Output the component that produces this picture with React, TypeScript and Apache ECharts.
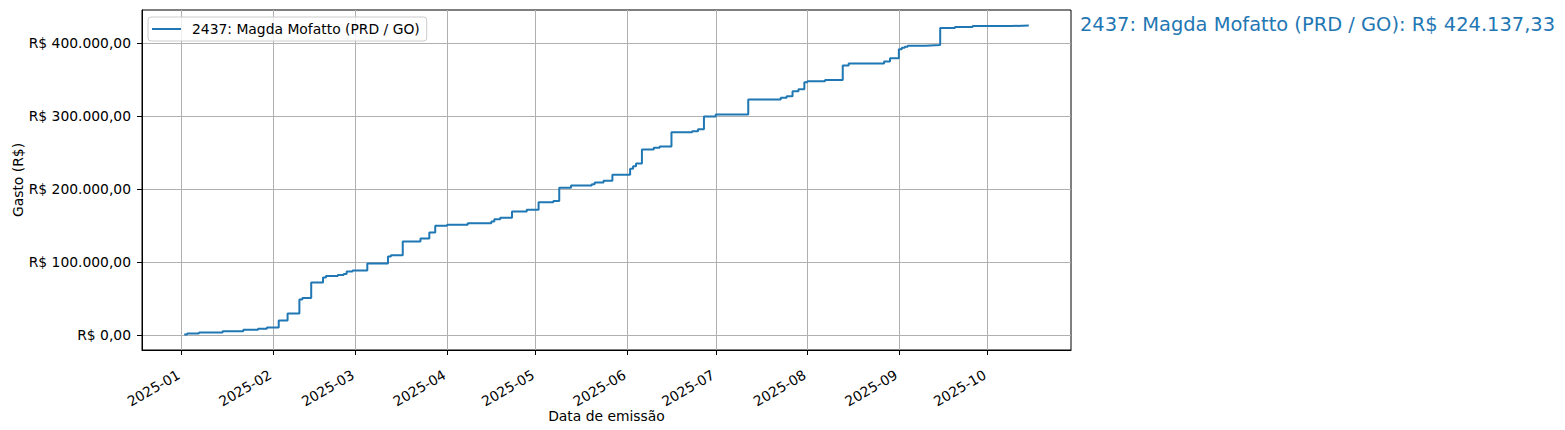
import React, { useEffect, useRef } from 'react';
import * as echarts from 'echarts';

const seriesName = '2437: Magda Mofatto (PRD / GO)';

const dates = [
  '2025-01-02', '2025-01-03', '2025-01-07', '2025-01-15', '2025-01-22', '2025-01-27', '2025-01-30',
  '2025-02-03', '2025-02-06', '2025-02-10', '2025-02-11', '2025-02-14', '2025-02-18', '2025-02-19',
  '2025-02-23', '2025-02-25', '2025-02-26', '2025-02-28',
  '2025-03-05', '2025-03-12', '2025-03-13', '2025-03-17', '2025-03-23', '2025-03-26', '2025-03-28',
  '2025-04-01', '2025-04-08', '2025-04-16', '2025-04-17', '2025-04-19', '2025-04-23', '2025-04-28',
  '2025-05-02', '2025-05-07', '2025-05-09', '2025-05-13', '2025-05-20', '2025-05-21', '2025-05-24', '2025-05-27',
  '2025-06-02', '2025-06-03', '2025-06-04', '2025-06-06', '2025-06-10', '2025-06-12', '2025-06-16',
  '2025-06-23', '2025-06-25', '2025-06-27',
  '2025-07-01', '2025-07-12', '2025-07-23', '2025-07-25', '2025-07-27', '2025-07-29', '2025-07-31',
  '2025-08-01', '2025-08-07', '2025-08-13', '2025-08-15', '2025-08-27', '2025-08-29',
  '2025-09-01', '2025-09-02', '2025-09-03', '2025-09-04', '2025-09-10', '2025-09-15', '2025-09-20', '2025-09-26',
  '2025-10-09', '2025-10-15',
];

const cumulative = [
  1000, 2300, 3700, 5600, 7400, 8800, 10600,
  20200, 29800, 49000, 50900, 72300, 79100, 81100,
  82400, 83800, 87400, 88700,
  98300, 107800, 109400, 128500, 132600, 140800, 150000,
  151400, 153200, 155900, 158700, 161000, 169600, 172000,
  182000, 183900, 202100, 204900, 206700, 209000, 211700, 219600,
  227800, 231300, 235000, 254200, 256600, 258400, 278000,
  279300, 282100, 299500,
  302200, 322800, 325100, 327300, 334200, 336900, 346500,
  347900, 349300, 369400, 372200, 374900, 379400,
  391400, 393700, 395100, 396500, 397300, 420600, 421900, 423300,
  424100, 424137.33,
];

const yTickValues = [0, 100000, 200000, 300000, 400000];
const xTickDates = [
  '2025-01-01', '2025-02-01', '2025-03-01', '2025-04-01', '2025-05-01',
  '2025-06-01', '2025-07-01', '2025-08-01', '2025-09-01', '2025-10-01',
];

const FONT = 'DejaVu Sans';
const BLUE = '#1f77b4';

function toTs(s: string): number {
  const [y, m, d] = s.split('-').map(Number);
  return new Date(y, m - 1, d).getTime();
}

function brl(v: number): string {
  const neg = v < 0;
  const fixed = Math.abs(v).toFixed(2);
  const [i, f] = fixed.split('.');
  const g = i.replace(/\B(?=(\d{3})+(?!\d))/g, '.');
  return 'R$ ' + (neg ? '-' : '') + g + ',' + f;
}

function ym(v: number): string {
  const d = new Date(v);
  const m = d.getMonth() + 1;
  return d.getFullYear() + '-' + (m < 10 ? '0' + m : '' + m);
}

export default function App() {
  const ref = useRef<HTMLDivElement>(null);

  useEffect(() => {
    if (!ref.current) return;
    const chart = echarts.init(ref.current, undefined, { renderer: 'svg' });

    const data = dates.map((d, i) => [toTs(d), cumulative[i]]);
    const xs = data.map((p) => p[0]);
    const ys = data.map((p) => p[1]);
    const xMinD = Math.min(...xs);
    const xMaxD = Math.max(...xs);
    const xSpan = xMaxD - xMinD;
    const yMinD = Math.min(...ys);
    const yMaxD = Math.max(...ys);
    const ySpan = yMaxD - yMinD;
    const xTicks = xTickDates.map(toTs);
    const total = cumulative[cumulative.length - 1];

    chart.setOption({
      animation: false,
      backgroundColor: '#ffffff',
      textStyle: { fontFamily: FONT },
      grid: {
        left: 142,
        top: 10,
        width: 929,
        height: 340,
        show: true,
        borderColor: '#000000',
        borderWidth: 1,
        backgroundColor: 'transparent',
        containLabel: false,
        outerBoundsMode: 'none',
      },
      legend: {
        left: 148,
        top: 17,
        orient: 'vertical',
        padding: [5, 7, 5, 4],
        itemWidth: 29,
        itemHeight: 2,
        backgroundColor: 'rgba(255,255,255,0.8)',
        borderColor: '#cccccc',
        borderWidth: 1,
        borderRadius: 3,
        data: [{ name: seriesName, icon: 'rect' }],
        textStyle: {
          fontFamily: FONT,
          fontSize: 13.89,
          color: '#000000',
          padding: [0, 0, 0, 6],
        },
      },
      xAxis: {
        type: 'value',
        min: xMinD - 0.05 * xSpan,
        max: xMaxD + 0.05 * xSpan,
        name: 'Data de emissão',
        nameLocation: 'middle',
        nameGap: 59,
        nameMoveOverlap: false,
        nameTextStyle: { fontFamily: FONT, fontSize: 13.89, color: '#000000' },
        axisLine: { show: true, onZero: false, lineStyle: { color: '#000000', width: 1 } },
        axisTick: {
          show: true,
          length: 5,
          lineStyle: { color: '#000000', width: 1 },
          customValues: xTicks,
        },
        axisLabel: {
          show: true,
          rotate: 30,
          margin: 22,
          padding: [0, 3, 0, 0],
          fontFamily: FONT,
          fontSize: 13.89,
          color: '#000000',
          customValues: xTicks,
          formatter: (v: number) => ym(v),
        },
        splitLine: { show: true, lineStyle: { color: '#b0b0b0', width: 1 } },
      },
      yAxis: {
        type: 'value',
        min: yMinD - 0.05 * ySpan,
        max: yMaxD + 0.05 * ySpan,
        name: 'Gasto (R$)',
        nameLocation: 'middle',
        nameGap: 117,
        nameMoveOverlap: false,
        nameTextStyle: { fontFamily: FONT, fontSize: 13.89, color: '#000000' },
        axisLine: { show: true, onZero: false, lineStyle: { color: '#000000', width: 1 } },
        axisTick: {
          show: true,
          length: 5,
          lineStyle: { color: '#000000', width: 1 },
          customValues: yTickValues,
        },
        axisLabel: {
          show: true,
          margin: 11,
          fontFamily: FONT,
          fontSize: 13.89,
          color: '#000000',
          customValues: yTickValues,
          formatter: (v: number) => brl(v),
        },
        splitLine: { show: true, lineStyle: { color: '#b0b0b0', width: 1 } },
      },
      graphic: [
        {
          type: 'text',
          x: 1080,
          y: 24.8,
          style: {
            text: seriesName + ': ' + brl(total),
            fill: BLUE,
            font: '19.44px "DejaVu Sans"',
            textVerticalAlign: 'middle',
            textAlign: 'left',
          },
        },
      ],
      series: [
        {
          name: seriesName,
          type: 'line',
          step: 'end',
          data,
          showSymbol: false,
          symbol: 'none',
          color: BLUE,
          lineStyle: { color: BLUE, width: 2 },
        },
      ],
    });

    return () => {
      chart.dispose();
    };
  }, []);

  return (
    <div
      ref={ref}
      style={{ position: 'absolute', left: 0, top: 0, width: 1565, height: 430 }}
    />
  );
}
